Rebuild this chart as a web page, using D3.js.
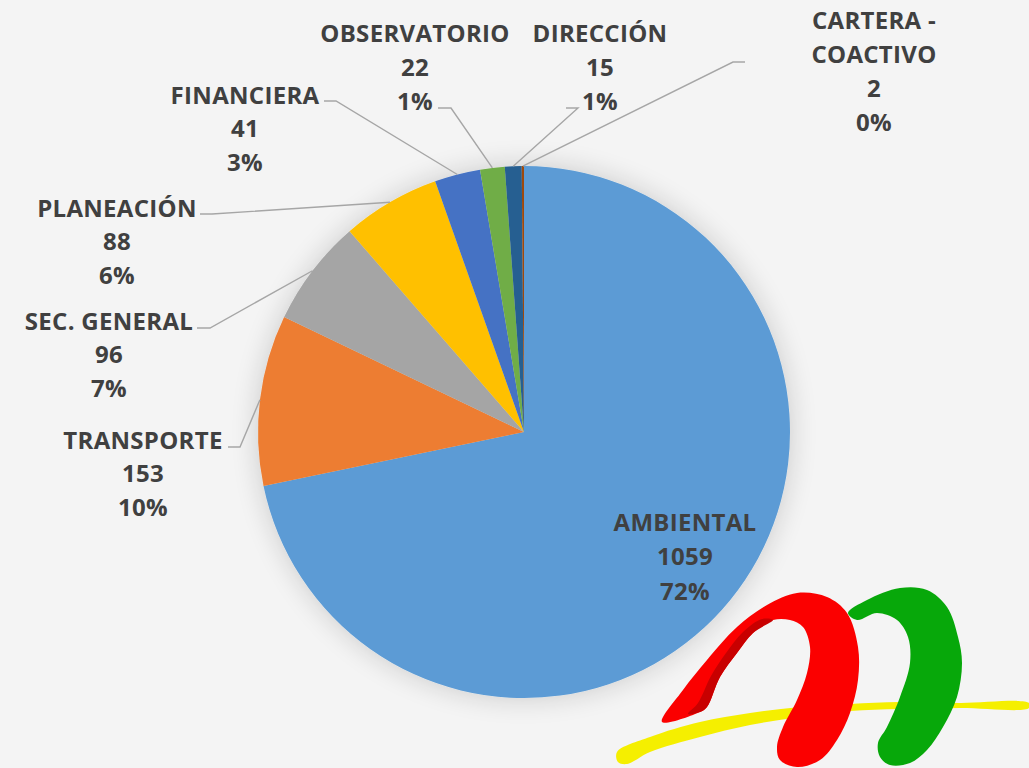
<!DOCTYPE html>
<html>
<head>
<meta charset="utf-8">
<script src="https://cdn.jsdelivr.net/npm/d3@7"></script>
<style>
  body { margin: 0; background: #f4f4f4; }
  svg { display: block; }
  .lbl { font-family: "Open Sans", sans-serif; font-weight: bold; font-size: 24px; letter-spacing: 0.3px; fill: #404040; }
</style>
</head>
<body>
<div id="chart"></div>
<script>
// data
var categories = ["AMBIENTAL", "TRANSPORTE", "SEC. GENERAL", "PLANEACIÓN", "FINANCIERA", "OBSERVATORIO", "DIRECCIÓN", "CARTERA - COACTIVO"];
var values = [1059, 153, 96, 88, 41, 22, 15, 2];
var percents = ["72%", "10%", "7%", "6%", "3%", "1%", "1%", "0%"];
var colors = ["#5b9bd5", "#ed7d31", "#a5a5a5", "#ffc000", "#4472c4", "#70ad47", "#255e91", "#9e480e"];

// label placement (center x, first line y, line gap, leader start x/y, elbow x)
var labelPos = [
  { x: 685, y: 522, gap: 34.5, lines: ["AMBIENTAL"] },
  { x: 143, y: 440, gap: 33.5, lines: ["TRANSPORTE"], lx: 228, ly: 447, ex: 240 },
  { x: 109, y: 321, gap: 33.5, lines: ["SEC. GENERAL"], lx: 197, ly: 328, ex: 210 },
  { x: 117, y: 208, gap: 33.5, lines: ["PLANEACIÓN"], lx: 200, ly: 214, ex: 212 },
  { x: 245, y: 95, gap: 33.5, lines: ["FINANCIERA"], lx: 324, ly: 101, ex: 336 },
  { x: 415, y: 33, gap: 34, lines: ["OBSERVATORIO"], lx: 438, ly: 108, ex: 451 },
  { x: 600, y: 33, gap: 34, lines: ["DIRECCIÓN"], lx: 566, ly: 108, ex: 578 },
  { x: 874, y: 20, gap: 34, lines: ["CARTERA -", "COACTIVO"], lx: 745, ly: 62, ex: 733 }
];

var width = 1029, height = 768;
var cx = 524, cy = 432, radius = 266;

var svg = d3.select("#chart").append("svg")
  .attr("width", width)
  .attr("height", height);

var defs = svg.append("defs");
var f = defs.append("filter").attr("id", "glow")
  .attr("x", "-30%").attr("y", "-30%").attr("width", "160%").attr("height", "160%");
f.append("feGaussianBlur").attr("in", "SourceAlpha").attr("stdDeviation", 14);
f.append("feComponentTransfer").append("feFuncA").attr("type", "linear").attr("slope", 0.18);
var m = f.append("feMerge");
m.append("feMergeNode");
m.append("feMergeNode").attr("in", "SourceGraphic");

var data = categories.map(function(c, i) {
  return { name: c, value: values[i], pct: percents[i], color: colors[i] };
});

var pie = d3.pie().sort(null).value(function(d) { return d.value; });
var arc = d3.arc().innerRadius(0).outerRadius(radius);
var arcs = pie(data);

var g = svg.append("g").attr("transform", "translate(" + cx + "," + cy + ")");

g.append("g").attr("filter", "url(#glow)")
  .selectAll("path")
  .data(arcs)
  .enter()
  .append("path")
  .attr("d", arc)
  .style("fill", function(d) { return d.data.color; });

// leader lines
svg.selectAll(".leader")
  .data(arcs.filter(function(d, i) { return labelPos[i].lx !== undefined; }))
  .enter()
  .append("polyline")
  .attr("class", "leader")
  .attr("points", function(d) {
    var p = labelPos[d.index];
    var a = (d.startAngle + d.endAngle) / 2;
    var tx = cx + radius * Math.sin(a), ty = cy - radius * Math.cos(a);
    return [[p.lx, p.ly], [p.ex, p.ly], [tx, ty]].join(" ");
  })
  .style("fill", "none")
  .style("stroke", "#a6a6a6")
  .style("stroke-width", 1.4);

// labels
var lbl = svg.selectAll(".lbl")
  .data(arcs)
  .enter()
  .append("text")
  .attr("class", "lbl")
  .attr("text-anchor", "middle");

lbl.each(function(d) {
  var p = labelPos[d.index];
  var lines = p.lines.concat([String(d.data.value), d.data.pct]);
  var t = d3.select(this);
  lines.forEach(function(s, k) {
    t.append("tspan")
      .attr("x", p.x)
      .attr("y", p.y + k * p.gap)
      .attr("dy", "0.36em")
      .text(s);
  });
});

// logo (decoration)
var logo = svg.append("g");
var smooth = d3.line().curve(d3.curveCatmullRomClosed);

logo.append("path")
  .attr("d", smooth([[617, 752], [650, 737], [700, 722], [750, 713], [800, 707], [850, 704], [900, 702], [960, 703], [1029, 703],
                     [1029, 708], [960, 708], [900, 709], [850, 711], [800, 717], [750, 725], [700, 737], [650, 752], [627, 764], [618, 762]]))
  .style("fill", "#f5ef00");

logo.append("path")
  .attr("d", smooth([[848, 613], [867, 600], [900, 588], [927, 590], [947, 607], [958, 637], [962, 663], [957, 697],
                     [943, 727], [927, 750], [910, 763], [890, 765], [880, 757], [878, 743], [887, 727], [900, 697],
                     [910, 663], [908, 637], [897, 620], [877, 613], [857, 620]]))
  .style("fill", "#07a80a");

logo.append("path")
  .attr("d", d3.line().curve(d3.curveCatmullRomClosed.alpha(0.5))([
    [662, 722], [683, 690], [707, 660], [737, 627], [767, 605], [797, 593], [827, 597], [847, 613], [858, 647],
    [858, 680], [850, 713], [837, 740], [820, 760], [797, 767], [780, 760], [777, 747], [783, 727], [797, 700],
    [807, 673], [810, 647], [803, 627], [790, 620], [773, 620], [753, 633], [737, 653], [720, 677], [707, 707], [700, 712]]))
  .style("fill", "#fb0000");

logo.append("path")
  .attr("d", smooth([[688, 714], [700, 712], [707, 707], [720, 677], [737, 653], [753, 633], [773, 620],
                     [762, 619], [743, 632], [726, 653], [711, 676], [698, 703]]))
  .style("fill", "#c80000");
</script>
</body>
</html>
